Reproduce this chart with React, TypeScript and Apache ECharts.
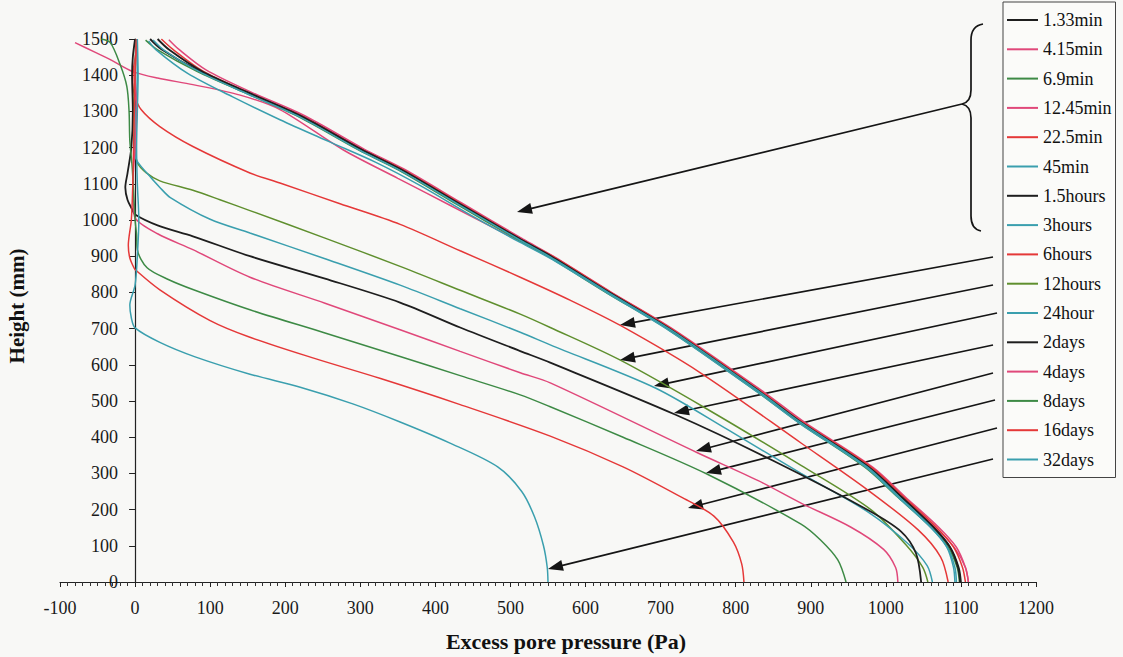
import React, { useEffect, useRef } from 'react';
import * as echarts from 'echarts';

// ---------- data ----------
const seriesNames = ['1.33min', '4.15min', '6.9min', '12.45min', '22.5min', '45min', '1.5hours', '3hours', '6hours', '12hours', '24hour', '2days', '4days', '8days', '16days', '32days'];

const BLACK = '#1e1e1e';
const PINK = '#e0487a';
const RED = '#e53838';
const GREEN = '#3d8a45';
const OLIVE = '#5f8f2e';
const TEAL = '#3a9fae';
const seriesColors = [BLACK, PINK, GREEN, PINK, RED, TEAL, BLACK, TEAL, RED, OLIVE, TEAL, BLACK, PINK, GREEN, RED, TEAL];

// [excess pore pressure (Pa), height (mm)]
const c1_33min = [[20,1500],[35,1472],[85,1412],[150,1350],[222,1288],[302,1196],[355,1140],[432,1046],[515,946],[555,900],[632,801],[715,697],[835,522],[889,438],[978,316],[1022,232],[1064,150],[1086,95],[1097,40],[1100,0]];
const c4_15min = [[-80,1490],[-55,1465],[-33,1443],[-3,1410],[30,1392],[77,1374],[140,1345],[193,1305],[277,1194],[350,1115],[420,1040],[490,965],[553,899],[632,800],[716,696],[836,521],[890,437],[980,314],[1025,230],[1068,148],[1092,93],[1106,40],[1110,0]];
const c6_9min = [[14,1497],[30,1470],[83,1410],[148,1350],[218,1285],[298,1193],[351,1138],[428,1044],[511,944],[551,898],[628,799],[711,696],[831,522],[885,439],[972,317],[1016,234],[1060,151],[1083,96],[1095,40],[1098,0]];
const c12_45min = [[45,1498],[58,1472],[95,1414],[156,1352],[226,1288],[305,1196],[358,1141],[435,1047],[517,947],[557,900],[634,801],[717,698],[838,524],[892,441],[982,318],[1026,235],[1070,152],[1094,96],[1106,40],[1110,0]];
const c22_5min = [[35,1500],[50,1472],[90,1412],[152,1351],[222,1287],[302,1195],[356,1140],[433,1046],[515,946],[556,900],[633,801],[716,697],[836,523],[890,440],[980,318],[1024,235],[1067,152],[1090,97],[1102,41],[1106,0]];
const c45min = [[18,1495],[28,1470],[70,1405],[130,1340],[193,1277],[260,1215],[320,1160],[380,1095],[450,1010],[513,938],[553,894],[630,797],[712,694],[832,520],[886,437],[974,316],[1017,233],[1060,150],[1082,95],[1092,40],[1094,0]];
const c1_5hours = [[30,1500],[45,1471],[89,1411],[152,1351],[221,1287],[301,1195],[354,1140],[431,1046],[514,946],[554,900],[631,801],[714,697],[834,523],[888,440],[977,318],[1021,235],[1063,152],[1085,97],[1096,41],[1099,0]];
const c3hours = [[24,1497],[38,1470],[86,1409],[150,1348],[220,1284],[300,1192],[353,1137],[430,1044],[513,944],[553,898],[630,800],[713,697],[833,523],[887,440],[975,318],[1018,235],[1060,152],[1081,97],[1090,41],[1092,0]];
const c6hours = [[3,1500],[1,1460],[-2,1420],[-3,1380],[-1,1346],[8,1305],[33,1258],[77,1203],[153,1130],[193,1102],[273,1045],[353,988],[433,915],[513,842],[580,778],[647,708],[753,578],[887,384],[976,254],[1043,144],[1073,69],[1083,0]];
const c12hours = [[1,1500],[0,1400],[-2,1300],[0,1200],[3,1158],[15,1130],[33,1108],[77,1082],[113,1056],[153,1026],[253,950],[353,872],[433,806],[513,740],[553,703],[647,612],[760,480],[887,322],[980,200],[1027,102],[1049,41],[1056,0]];
const c24hour = [[2,1500],[3,1400],[1,1300],[0,1230],[0,1178],[20,1120],[33,1090],[47,1062],[100,1002],[153,964],[253,893],[353,820],[433,755],[513,690],[553,655],[693,536],[790,420],[887,300],[975,195],[1030,105],[1055,45],[1062,0]];
const c2days = [[0,1500],[-3,1450],[-4,1400],[-3,1300],[-5,1200],[-10,1130],[-13,1090],[-10,1055],[-4,1030],[0,1015],[30,985],[77,955],[153,900],[253,838],[353,772],[433,703],[513,638],[553,606],[720,462],[850,335],[976,199],[1020,140],[1040,80],[1047,0]];
const c4days = [[2,1500],[0,1400],[2,1300],[0,1200],[-3,1100],[-2,1040],[0,1006],[30,962],[77,918],[153,842],[253,770],[353,697],[433,637],[513,578],[553,550],[749,357],[830,280],[887,218],[953,152],[997,90],[1013,40],[1016,0]];
const c8days = [[-45,1500],[-33,1490],[-20,1430],[-11,1369],[-8,1300],[-7,1220],[-4,1150],[-2,1080],[0,1000],[2,960],[3,918],[16,868],[45,835],[77,808],[153,752],[253,688],[353,623],[433,570],[513,517],[553,484],[650,400],[761,299],[887,160],[913,116],[936,61],[947,0]];
const c16days = [[2,1500],[0,1400],[-1,1300],[-2,1200],[-3,1100],[-5,1000],[-9,930],[-7,895],[-2,870],[0,863],[33,807],[100,722],[153,676],[240,617],[327,562],[433,490],[553,403],[650,318],[727,235],[771,182],[797,110],[808,50],[811,0]];
const c32days = [[3,1500],[4,1400],[3,1300],[2,1200],[3,1100],[5,1000],[3,900],[0,820],[-7,765],[-5,730],[0,702],[33,662],[80,622],[153,574],[220,538],[290,492],[353,442],[418,385],[483,318],[515,250],[532,180],[544,100],[549,40],[550,0]];

const curves = [c1_33min, c4_15min, c6_9min, c12_45min, c22_5min, c45min, c1_5hours, c3hours, c6hours, c12hours, c24hour, c2days, c4days, c8days, c16days, c32days];

const xMin = -100, xMax = 1200, xStep = 100;
const yMin = 0, yMax = 1500, yStep = 100;
const xTitle = 'Excess pore pressure (Pa)';
const yTitle = 'Height (mm)';

// annotation arrows (pixel layout): [startX, startY, tipX, tipY]
const arrows = [
  [962, 104, 517, 212],
  [993, 257, 620, 325],
  [993, 285, 620, 360],
  [997, 313, 654, 386],
  [993, 345, 674, 413],
  [993, 373, 696, 451],
  [995, 400, 706, 473],
  [997, 428, 688, 508],
  [993, 459, 548, 569],
];

const SERIF = '"Liberation Serif", "Times New Roman", serif';

echarts.graphic.registerShape(
  'brace',
  echarts.graphic.extendPath('M 983 24 Q 971 26 971 40 L 971 90 Q 971 102 962 104 Q 971 106 971 118 L 971 216 Q 971 229 981 231', {})
);

function arrowGraphics() {
  const out: any[] = [];
  arrows.forEach(([sx, sy, tx, ty]) => {
    const dx = tx - sx, dy = ty - sy;
    const len = Math.sqrt(dx * dx + dy * dy);
    const ux = dx / len, uy = dy / len;
    const L = 15, W = 5.5;
    const bx = tx - ux * L, by = ty - uy * L;
    const nx = -uy, ny = ux;
    out.push({ type: 'line', silent: true, shape: { x1: sx, y1: sy, x2: bx + ux * 2, y2: by + uy * 2 }, style: { stroke: '#151515', lineWidth: 1.7 } });
    out.push({ type: 'polygon', silent: true, shape: { points: [[tx, ty], [bx + nx * W, by + ny * W], [bx - nx * W, by - ny * W]] }, style: { fill: '#151515' } });
  });
  return out;
}

const plain = (v: number) => String(v);

export default function App() {
  const ref = useRef<HTMLDivElement>(null);
  useEffect(() => {
    if (!ref.current) return;
    const chart = echarts.init(ref.current, null, { renderer: 'svg' });
    const axisText = { color: '#1a1a1a', fontFamily: SERIF, fontSize: 18 };
    const option: any = {
      animation: false,
      backgroundColor: '#f8f8f6',
      grid: { left: 60, right: 87, top: 39, bottom: 75, containLabel: false, outerBoundsMode: 'none' },
      xAxis: {
        type: 'value', min: xMin, max: xMax, interval: xStep,
        axisLine: { show: true, onZero: true, lineStyle: { color: '#222', width: 1.2 } },
        axisTick: { show: true, length: 5, lineStyle: { color: '#222', width: 1 } },
        minorTick: { show: true, splitNumber: 10, length: 4, lineStyle: { color: '#333', width: 1 } },
        splitLine: { show: false },
        minorSplitLine: { show: false },
        axisLabel: { ...axisText, margin: 17, formatter: plain },
      },
      yAxis: {
        type: 'value', min: yMin, max: yMax, interval: yStep,
        axisLine: { show: true, onZero: true, lineStyle: { color: '#222', width: 1.2 } },
        axisTick: { show: true, length: 6, lineStyle: { color: '#222', width: 1 } },
        splitLine: { show: false },
        axisLabel: { ...axisText, margin: -58, formatter: plain },
      },
      legend: {
        orient: 'vertical', left: 1003, top: 2,
        data: seriesNames,
        icon: 'rect', itemWidth: 31, itemHeight: 2, itemGap: 9.3,
        padding: [8, 4, 8, 4],
        borderColor: '#444', borderWidth: 1,
        backgroundColor: '#fbfbf9',
        selectedMode: false,
        textStyle: { fontFamily: SERIF, fontSize: 18, color: '#111', lineHeight: 20 },
      },
      series: seriesNames.map((name, i) => ({
        name, type: 'line', data: curves[i],
        showSymbol: false, symbol: 'none', smooth: 0.3, silent: true,
        lineStyle: { color: seriesColors[i], width: seriesColors[i] === BLACK ? 1.8 : 1.5 },
        itemStyle: { color: seriesColors[i] },
      })),
      graphic: [
        { type: 'text', x: 566, y: 641, silent: true, style: { text: xTitle, font: 'bold 22px "Liberation Serif"', fill: '#111', textAlign: 'center', align: 'center', textVerticalAlign: 'middle', verticalAlign: 'middle' } },
        { type: 'text', x: 17, y: 306, rotation: Math.PI / 2, silent: true, style: { text: yTitle, font: 'bold 21px "Liberation Serif"', fill: '#111', textAlign: 'center', align: 'center', textVerticalAlign: 'middle', verticalAlign: 'middle' } },
        { type: 'brace', x: 0, y: 0, silent: true, style: { stroke: '#151515', fill: 'none', lineWidth: 1.7 } },
        ...arrowGraphics(),
      ],
    };
    chart.setOption(option);
    return () => chart.dispose();
  }, []);
  return <div ref={ref} style={{ position: 'fixed', left: 0, top: 0, width: 1123, height: 657 }} />;
}
